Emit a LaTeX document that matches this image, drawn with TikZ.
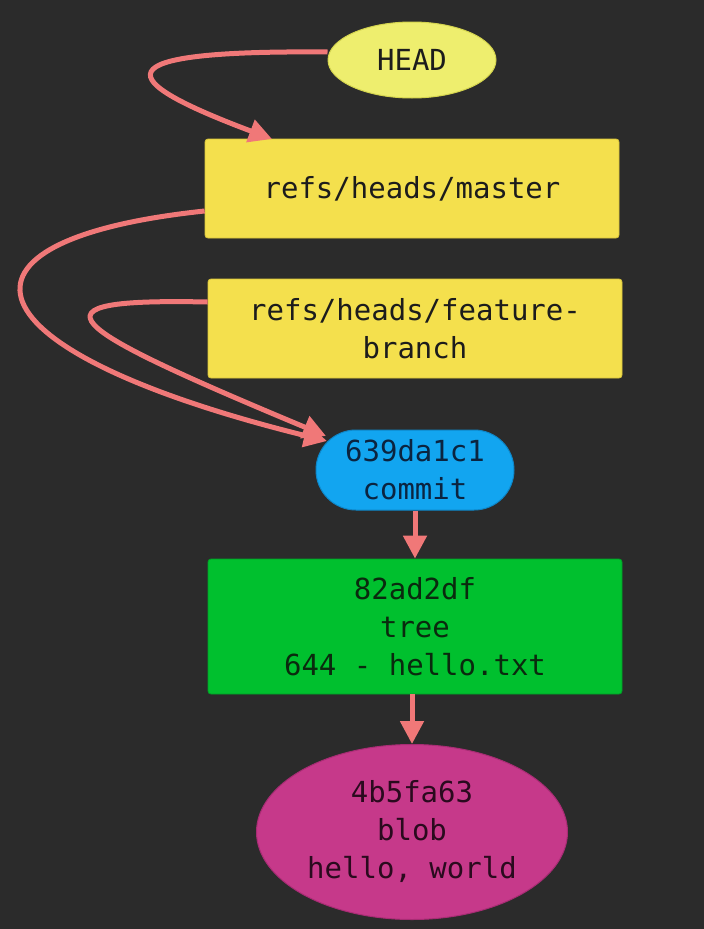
\documentclass[tikz,border=0pt]{standalone}
\usepackage{fontspec}
\setmonofont{DejaVu Sans Mono}
\usetikzlibrary{shapes.geometric,shapes.misc,arrows.meta,calc}
\definecolor{bg}{HTML}{2B2B2B}
\definecolor{headfill}{HTML}{EEEE6E}
\definecolor{headdraw}{HTML}{D4D44E}
\definecolor{reffill}{HTML}{F4E04D}
\definecolor{refdraw}{HTML}{D8C43A}
\definecolor{commitfill}{HTML}{12A5F0}
\definecolor{commitdraw}{HTML}{0E86C8}
\definecolor{commitText}{HTML}{0B2440}
\definecolor{treefill}{HTML}{00C02E}
\definecolor{treedraw}{HTML}{00A026}
\definecolor{treeText}{HTML}{0A2A0E}
\definecolor{blobfill}{HTML}{C6398A}
\definecolor{blobdraw}{HTML}{A82C74}
\definecolor{blobText}{HTML}{2A0A1E}
\definecolor{darkText}{HTML}{1C1C1C}
\definecolor{arrowc}{HTML}{F07878}
\tikzset{
  lbl/.style={font=\ttfamily\fontsize{29}{38}\selectfont, align=center, inner sep=0pt},
  headnode/.style={lbl, ellipse, fill=headfill, draw=headdraw, line width=1pt, minimum width=168pt, minimum height=76pt, text=darkText},
  refbox/.style={lbl, rectangle, rounded corners=3pt, fill=reffill, draw=refdraw, line width=0.8pt, minimum width=414pt, minimum height=99pt, text=darkText},
  commitbox/.style={lbl, rounded rectangle, fill=commitfill, draw=commitdraw, line width=1pt, minimum width=198pt, minimum height=80pt, text=commitText},
  treebox/.style={lbl, rectangle, rounded corners=3pt, fill=treefill, draw=treedraw, line width=0.8pt, minimum width=414pt, minimum height=135pt, text=treeText},
  blobnode/.style={lbl, ellipse, fill=blobfill, draw=blobdraw, line width=1pt, minimum width=311pt, minimum height=175pt, text=blobText},
  conn/.style={draw=arrowc, line width=5pt, -{Triangle[length=23pt,width=23pt]}},
}
\begin{document}
\begin{tikzpicture}[x=1pt,y=-1pt]
\useasboundingbox (0,0) rectangle (704,929);
\fill[bg] (0,0) rectangle (704,929);

\node[headnode] (head) at (412,60) {HEAD};
\node[refbox] (master) at (412,188.5) {refs/heads/master};
\node[refbox] (feature) at (415,328.5) {refs/heads/feature-\\branch};
\node[commitbox] (commit) at (415,470) {639da1c1\\commit};
\node[treebox] (tree) at (415,626.5) {82ad2df\\tree\\644 - hello.txt};
\node[blobnode] (blob) at (412,832) {4b5fa63\\blob\\hello, world};

\coordinate (mtop) at (272,139);
\coordinate (ctipA) at (327,441);
\coordinate (ctipB) at (326,436);

\draw[conn] (head.west |- 0,52) .. controls (95,50) and (115,80) .. (mtop);
\draw[conn] (master.west |- 0,211) .. controls (-70,240) and (-40,350) .. (ctipA);
\draw[conn] (feature.west |- 0,302) .. controls (20,298) and (60,325) .. (ctipB);
\draw[conn] (commit.south) -- (tree.north);
\draw[conn] (tree.south -| blob.north) -- (blob.north);
\end{tikzpicture}
\end{document}
